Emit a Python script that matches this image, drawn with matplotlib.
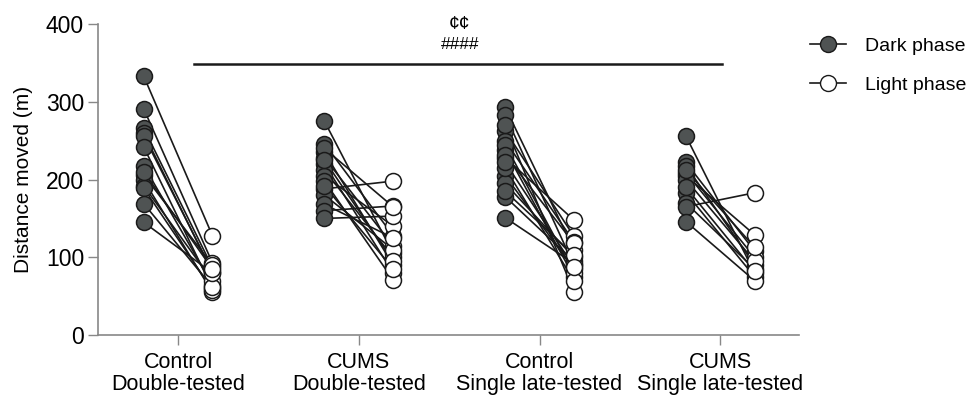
import matplotlib.pyplot as plt
import numpy as np

plt.rcParams['font.family'] = ['Liberation Sans', 'DejaVu Sans']

groups = ["Control\nDouble-tested", "CUMS\nDouble-tested",
          "Control\nSingle late-tested", "CUMS\nSingle late-tested"]

# paired values per animal: dark phase -> light phase (distance moved, m)
dark_ctrl_dt = [333, 291, 266, 260, 256, 242, 218, 206, 199, 192, 189, 169, 145, 210]
light_ctrl_dt = [128, 93, 87, 80, 82, 60, 65, 90, 55, 70, 58, 62, 80, 85]

dark_cums_dt = [275, 246, 235, 228, 220, 212, 205, 198, 188, 180, 168, 160, 150, 240, 225, 192]
light_cums_dt = [105, 128, 90, 115, 80, 100, 140, 71, 198, 110, 125, 166, 153, 165, 95, 85]

dark_ctrl_sl = [293, 283, 263, 250, 238, 228, 205, 195, 178, 151, 270, 245, 232, 215, 185, 222]
light_ctrl_sl = [110, 90, 127, 120, 75, 148, 85, 100, 95, 92, 56, 80, 118, 70, 103, 88]

dark_cums_sl = [256, 222, 218, 209, 205, 183, 170, 165, 146, 200, 190, 212]
light_cums_sl = [80, 108, 90, 100, 129, 75, 85, 183, 70, 95, 82, 113]

dark_all = [dark_ctrl_dt, dark_cums_dt, dark_ctrl_sl, dark_cums_sl]
light_all = [light_ctrl_dt, light_cums_dt, light_ctrl_sl, light_cums_sl]

fig = plt.figure(figsize=(9.73, 3.97), dpi=100)
ax = fig.add_axes([0.1007, 0.156, 0.7205, 0.7835])

off = 0.19
dark_col = '#4f5353'
edge = '#1a1a1a'
for i, (d, l) in enumerate(zip(dark_all, light_all)):
    for dv, lv in zip(d, l):
        ax.plot([i - off, i + off], [dv, lv], color=edge, lw=1.2, zorder=2)
    ax.plot(np.full(len(d), i - off), d, 'o', ms=11.5, mfc=dark_col, mec=edge,
            mew=1.1, ls='none', zorder=3)
    ax.plot(np.full(len(l), i + off), l, 'o', ms=11.5, mfc='white', mec=edge,
            mew=1.1, ls='none', zorder=3)

# legend handles
ax.plot([], [], '-o', color=edge, ms=11.5, mfc=dark_col, mec=edge, lw=1.2,
        label='Dark phase')
ax.plot([], [], '-o', color=edge, ms=11.5, mfc='white', mec=edge, lw=1.2,
        label='Light phase')
ax.legend(loc='upper left', bbox_to_anchor=(0.99, 1.013), frameon=False, fontsize=14,
          handlelength=1.9, labelspacing=1.1, handletextpad=0.95)

# significance bar
ax.plot([0.09, 3.01], [348, 348], color=edge, lw=1.8, clip_on=False)
ax.text(1.56, 374, "####", ha='center', va='center', fontsize=12.5)
ax.text(1.56, 400, "¢¢", ha='center', va='center', fontsize=14, clip_on=False)

ax.set_xlim(-0.443, 3.436)
ax.set_ylim(0, 400)
ax.set_yticks([0, 100, 200, 300, 400])
ax.set_xticks(range(4))
ax.set_xticklabels(groups, fontsize=15.5, linespacing=1.1)
ax.tick_params(axis='y', labelsize=16.5, length=7, width=1, color='#888888', pad=3)
ax.tick_params(axis='x', length=7, width=1, color='#888888', pad=5)
ax.set_ylabel("Distance moved (m)", fontsize=15, labelpad=9)

for s in ['top', 'right']:
    ax.spines[s].set_visible(False)
for s in ['left', 'bottom']:
    ax.spines[s].set_color('#888888')
    ax.spines[s].set_linewidth(1.2)

fig.savefig("out.png", dpi=100)
